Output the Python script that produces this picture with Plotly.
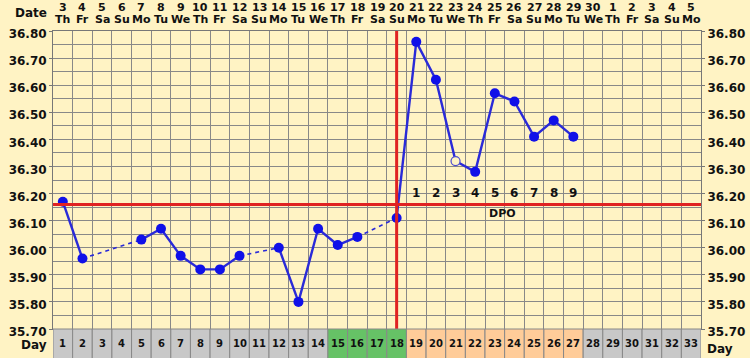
import plotly.graph_objects as go

# ---------------- data ----------------
days = list(range(1, 34))
dates = [3, 4, 5, 6, 7, 8, 9, 10, 11, 12, 13, 14, 15, 16, 17, 18, 19, 20, 21, 22,
         23, 24, 25, 26, 27, 28, 29, 30, 1, 2, 3, 4, 5]
weekdays = ["Th", "Fr", "Sa", "Su", "Mo", "Tu", "We", "Th", "Fr", "Sa", "Su", "Mo",
            "Tu", "We", "Th", "Fr", "Sa", "Su", "Mo", "Tu", "We", "Th", "Fr", "Sa",
            "Su", "Mo", "Tu", "We", "Th", "Fr", "Sa", "Su", "Mo"]
temps = [36.17, 35.96, None, None, 36.03, 36.07, 35.97, 35.92, 35.92, 35.97,
         None, 36.00, 35.80, 36.07, 36.01, 36.04, None, 36.11, 36.76, 36.62,
         36.32, 36.28, 36.57, 36.54, 36.41, 36.47, 36.41,
         None, None, None, None, None, None]
open_days = [21]
coverline = 36.16
ovulation_day = 18
dpo_days = [19, 20, 21, 22, 23, 24, 25, 26, 27]
dpo_labels = ["1", "2", "3", "4", "5", "6", "7", "8", "9"]
dpo_title_day = 23.4
phase_of_day = (["gray"] * 14 + ["green"] * 4 + ["orange"] * 9 + ["gray"] * 6)
y_ticks = [35.70, 35.80, 35.90, 36.00, 36.10, 36.20, 36.30, 36.40, 36.50, 36.60, 36.70, 36.80]

# ---------------- style ----------------
BG = "#FFF3C4"
GRID = "#888888"
BLUE = "#1010E8"
LINE_BLUE = "#2A2AD8"
RED = "#E02222"
PHASE_COL = {"gray": "#C8C8C8", "green": "#66C266", "orange": "#FFCC99"}
FONT = dict(family="DejaVu Sans", size=12, color="#111111", weight="bold")

fig = go.Figure()

# dashed bridges across missing days
bx, by = [], []
known = [(d, t) for d, t in zip(days, temps) if t is not None]
for (d0, t0), (d1, t1) in zip(known[:-1], known[1:]):
    if d1 - d0 > 1:
        bx += [d0, d1, None]
        by += [t0, t1, None]
fig.add_trace(go.Scatter(x=bx, y=by, mode="lines",
                         line=dict(color=LINE_BLUE, width=1.6, dash="4px,4px"),
                         hoverinfo="skip", showlegend=False))

# solid segments between consecutive days
fig.add_trace(go.Scatter(x=days, y=temps, mode="lines", connectgaps=False,
                         line=dict(color=LINE_BLUE, width=2.4),
                         showlegend=False))

# coverline and ovulation line
fig.add_hline(y=coverline, line=dict(color=RED, width=3))
fig.add_vline(x=ovulation_day, line=dict(color=RED, width=3))

# markers
fx = [d for d, t in zip(days, temps) if t is not None and d not in open_days]
fy = [t for d, t in zip(days, temps) if t is not None and d not in open_days]
ox = [d for d, t in zip(days, temps) if t is not None and d in open_days]
oy = [t for d, t in zip(days, temps) if t is not None and d in open_days]
fig.add_trace(go.Scatter(x=fx, y=fy, mode="markers",
                         marker=dict(color=BLUE, size=10, line=dict(width=0)),
                         showlegend=False))
fig.add_trace(go.Scatter(x=ox, y=oy, mode="markers",
                         marker=dict(color=BG, size=9, symbol="circle",
                                     line=dict(color="#4B4BD0", width=1.2)),
                         showlegend=False))

# right-side axis trace (invisible) to activate yaxis2
fig.add_trace(go.Scatter(x=[days[0]], y=[y_ticks[0]], yaxis="y2", mode="markers",
                         marker=dict(opacity=0), hoverinfo="skip", showlegend=False))

# day row cells (below plot)
for d, ph in zip(days, phase_of_day):
    fig.add_shape(type="rect", xref="x", yref="paper",
                  x0=d - 0.5, x1=d + 0.5, y0=-0.1, y1=0,
                  fillcolor=PHASE_COL[ph], line=dict(color=GRID, width=1),
                  layer="above")
    fig.add_annotation(x=d, y=-0.05, xref="x", yref="paper", text=str(d),
                       showarrow=False, font=dict(FONT, size=10),
                       xanchor="center", yanchor="middle")

# header date/weekday rows
for d, dt, wd in zip(days, dates, weekdays):
    fig.add_annotation(x=d, y=1, xref="x", yref="paper", text=str(dt),
                       showarrow=False, font=dict(FONT, size=11),
                       yanchor="middle", yshift=24)
    fig.add_annotation(x=d, y=1, xref="x", yref="paper", text=wd,
                       showarrow=False, font=dict(FONT, size=11),
                       yanchor="middle", yshift=12)

fig.add_annotation(x=0, y=1, xref="paper", yref="paper", text="Date",
                   showarrow=False, font=FONT, xanchor="right", yanchor="middle",
                   xshift=-4, yshift=18)
fig.add_annotation(x=0, y=-0.054, xref="paper", yref="paper", text="Day",
                   showarrow=False, font=FONT, xanchor="right", yanchor="middle",
                   xshift=-4)
fig.add_annotation(x=1, y=-0.067, xref="paper", yref="paper", text="Day",
                   showarrow=False, font=FONT, xanchor="left", yanchor="middle",
                   xshift=4)

# DPO labels
for d, lab in zip(dpo_days, dpo_labels):
    fig.add_annotation(x=d, y=coverline, xref="x", yref="y", text=lab,
                       showarrow=False, font=FONT, yanchor="bottom", yshift=2)
fig.add_annotation(x=dpo_title_day, y=coverline, xref="x", yref="y", text="DPO",
                   showarrow=False, font=dict(FONT, size=11), yanchor="top", yshift=-1)

grid_x = [d - 0.5 for d in days] + [days[-1] + 0.5]

yax_common = dict(range=[y_ticks[0], y_ticks[-1]], tickvals=y_ticks,
                  tickformat=".2f", tickfont=FONT, fixedrange=True, automargin=False,
                  ticklabelshift=3)

fig.update_layout(
    width=750, height=358,
    margin=dict(l=53, r=49, t=31, b=29),
    paper_bgcolor=BG, plot_bgcolor=BG,
    xaxis=dict(range=[grid_x[0], grid_x[-1]], tickvals=grid_x, showticklabels=False,
               showgrid=True, gridcolor=GRID, gridwidth=1, zeroline=False,
               showline=True, linecolor="#777777", linewidth=1, mirror=True,
               ticks="", fixedrange=True, automargin=False),
    yaxis=dict(**yax_common, side="left", showgrid=True, gridcolor=GRID, gridwidth=1,
               minor=dict(dtick=0.05, tick0=35.70, showgrid=True, gridcolor=GRID,
                          gridwidth=1),
               zeroline=False, showline=True, linecolor="#777777", linewidth=1,
               mirror=True, ticks="outside", ticklen=3, tickcolor="#777777"),
    yaxis2=dict(**yax_common, side="right", overlaying="y", showgrid=False,
                zeroline=False, ticks="outside", ticklen=3, tickcolor="#777777"),
    showlegend=False,
)

fig.write_html("out.html", config={"displayModeBar": False},
               post_script="document.body.style.margin='0';"
                           "document.body.style.overflow='hidden';"
                           "document.body.style.background='" + BG + "';")
